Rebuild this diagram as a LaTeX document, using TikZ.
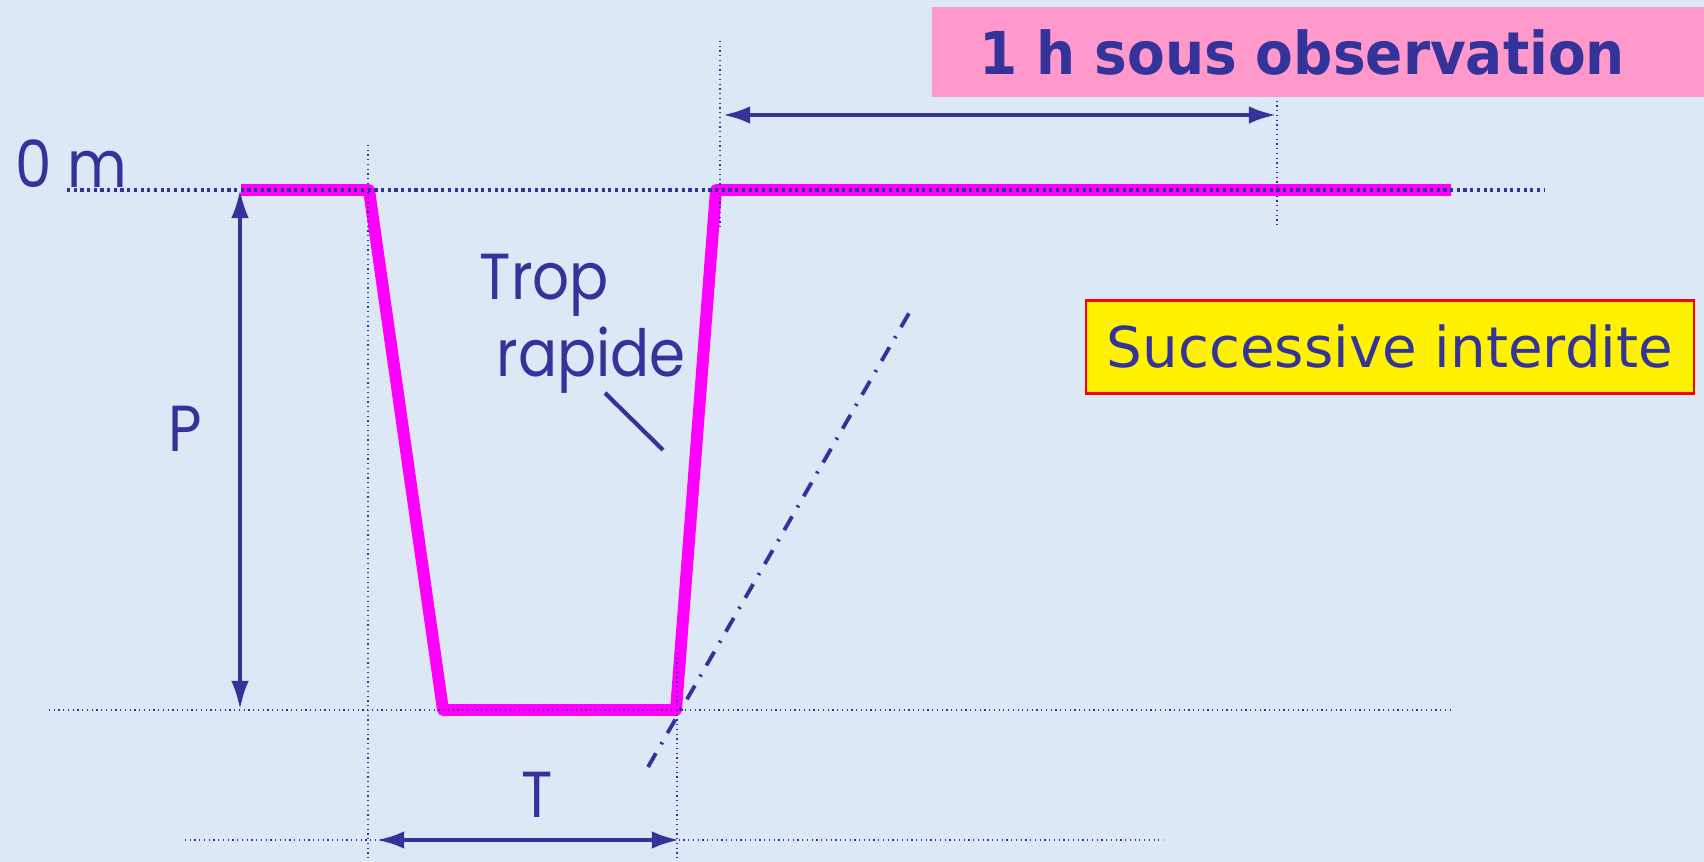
\documentclass[tikz,border=0pt]{standalone}
\usepackage{fontspec}
\usetikzlibrary{arrows.meta,positioning}
\newfontfamily\titrefont[FakeStretch=0.93]{DejaVu Sans}
\newfontfamily\cadrefont{DejaVu Sans}
\newfontfamily\mainfont[FakeStretch=0.89]{Poppins}
\definecolor{fond}{RGB}{220,232,246}
\definecolor{encre}{RGB}{51,51,153}
\definecolor{rose}{RGB}{255,153,204}
\definecolor{profil}{RGB}{255,0,255}
\tikzset{
  repere/.style={encre, line width=0.35pt, densely dotted},
  surface/.style={encre, line width=0.9pt, densely dotted},
  cote/.style={encre, line width=1.4pt, {Latex[length=8pt,width=5pt]}-{Latex[length=8pt,width=5pt]}},
  main/.style={encre, font=\mainfont\fontsize{18.5}{22}\selectfont, inner sep=0pt},
}
\begin{document}
\begin{tikzpicture}[x=0.01cm,y=-0.01cm]
    \fill[fond] (0,0) rectangle (1704,862);
    \useasboundingbox (0,0) rectangle (1704,862);
    \coordinate (S0) at (241,190);
    \coordinate (S1) at (369,190);
    \coordinate (F0) at (443,710);
    \coordinate (F1) at (676,710);
    \coordinate (R0) at (716,190);
    \coordinate (R1) at (1451,190);
    \draw[profil, line width=3.4pt, line join=round] (S0) -- (S1) -- (F0) -- (F1) -- (R0) -- (R1);
    \coordinate (H0) at (67,190);
    \coordinate (H1) at (1545,190);
    \coordinate (B0) at (49,710);
    \coordinate (B1) at (1451,710);
    \coordinate (C0) at (185,840);
    \coordinate (C1) at (1163,840);
    \draw[surface] (H0) -- (H1);
    \draw[repere] (B0) -- (B1);
    \draw[repere] (C0) -- (C1);
    \draw[repere] (368,145) -- (368,862);
    \draw[repere] (720,41) -- (720,230);
    \draw[repere] (1277,77) -- (1277,228);
    \draw[repere] (677,653) -- (677,862);
    \node[main, anchor=base west] (zero) at (15,188) {0 m};
    \node[main] (prof) at (185,429) {P};
    \node[main] (temps) at (537,795) {T};
    \node[main, anchor=base west, align=left] (trop) at (479,377) {Trop\\\hspace*{0.17cm}rapide};
    \coordinate (T0) at (605,393);
    \coordinate (T1) at (663,450);
    \draw[encre, line width=1.2pt] (T0) -- (T1);
    \coordinate (D0) at (648,767);
    \coordinate (D1) at (912,308);
    \draw[encre, line width=1.1pt, dash pattern=on 4.5pt off 3pt on 0.6pt off 3pt] (D0) -- (D1);
    \coordinate (PH) at (240,190);
    \coordinate (PB) at (240,709);
    \coordinate (TG) at (376,840);
    \coordinate (TD) at (680,840);
    \coordinate (OG) at (722,115);
    \coordinate (OD) at (1277,115);
    \draw[cote, line width=0.9pt] (PH) -- (PB);
    \draw[cote] (TG) -- (TD);
    \draw[cote] (OG) -- (OD);
    \node[fill=rose, minimum width=7.72cm, minimum height=0.9cm, inner sep=0pt,
      text=encre, font=\titrefont\bfseries\fontsize{16.8}{20}\selectfont] (obs) at (1318,52)
      {\hspace*{-0.32cm}1 h sous observation};
    \node[fill=yellow, draw=red, line width=0.7pt, minimum width=6.08cm, minimum height=0.93cm,
      inner sep=0pt, text=encre, font=\cadrefont\fontsize{16}{19}\selectfont] (succ) at (1390,347)
      {Successive interdite};
\end{tikzpicture}
\end{document}
